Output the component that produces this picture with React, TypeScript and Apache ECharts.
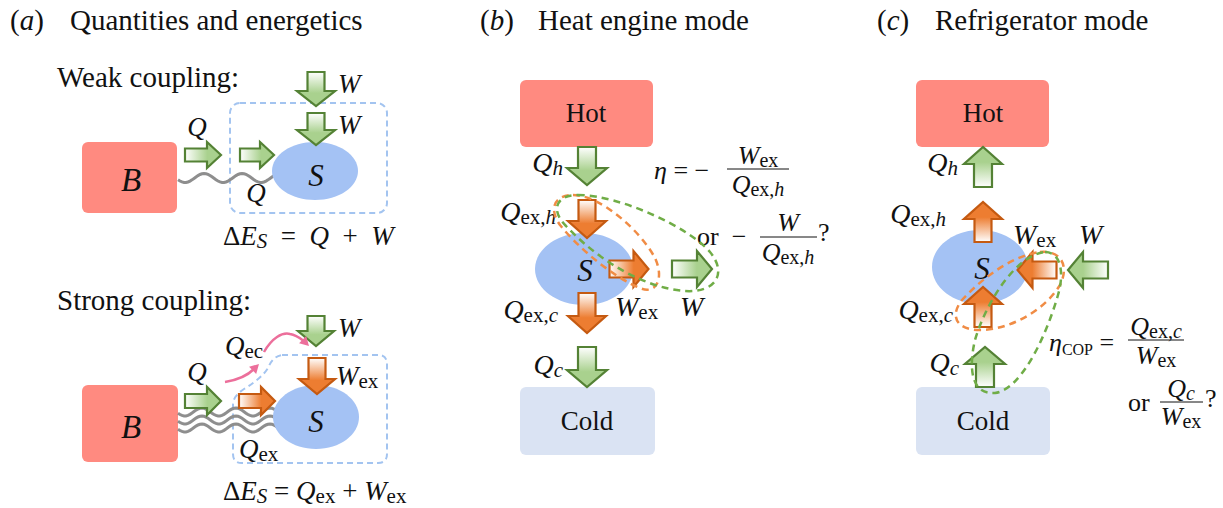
import React, { useEffect, useRef } from "react";
import * as echarts from "echarts";

const WIDTH = 1223;
const HEIGHT = 508;
const SERIF = "Liberation Serif";
const INK = "#111111";

const PANEL_TAGS = ["a", "b", "c"];
const PANEL_TITLES = ["Quantities and energetics", "Heat engine mode", "Refrigerator mode"];
const PANEL_TAG_X = [10, 480, 877];
const PANEL_TITLE_X = [70, 538, 935];
const SUBTITLES = ["Weak coupling:", "Strong coupling:"];
const RESERVOIRS = ["Hot", "Cold"];

const COL = {
  hot: "#ff8a80",
  cold: "#dae3f3",
  sys: "#a4c2f4",
  dashBlue: "#a3c4f0",
  wave: "#8e8e8e",
  gStroke: "#548235",
  gFill: "#a9d18e",
  oStroke: "#c55a11",
  oFill: "#ed7d31",
  gDash: "#70ad47",
  oDash: "#f08c45",
  pink: "#ec6f9b",
};

const PATHS: Record<string, string> = {
  strongRegion:
    "M 282 355 L 378 355 Q 387 355 387 364 L 387 454 Q 387 463 378 463 L 242 463 Q 233 463 233 454 L 233 405 Q 233 396 244 389 Q 262 378 268 368 Q 273 356 282 355 Z",
  loopBo:
    "M 573 195 C 600 195 640 230 655 258 C 665 280 655 295 640 288 C 615 278 580 250 560 225 C 548 208 555 195 573 195 Z",
  loopBg:
    "M 578 195 C 620 195 690 228 710 252 C 728 274 715 293 685 291 C 645 288 600 262 566 226 C 550 210 556 195 578 195 Z",
  loopCo:
    "M 1040 252 C 1060 250 1070 265 1060 285 C 1045 310 1010 330 980 330 C 955 330 950 315 962 300 C 985 275 1015 255 1040 252 Z",
  loopCg:
    "M 1045 252 C 1062 252 1064 275 1058 295 C 1045 340 1020 390 995 393 C 972 395 968 370 975 340 C 985 305 1015 255 1045 252 Z",
  pinkA: "M 225 382 Q 244 379 254 369",
  pinkB: "M 264 352 C 272 338 282 332 290 334 C 297 335 301 339 305 342",
};
Object.keys(PATHS).forEach((k) => {
  echarts.graphic.registerShape(k, echarts.graphic.extendPath(PATHS[k], {}));
});

function rich(sz: number) {
  const sub = Math.round(sz * 0.76);
  return {
    i: { fontFamily: SERIF, fontStyle: "italic", fontSize: sz, lineHeight: sz + 4, fill: INK },
    n: { fontFamily: SERIF, fontStyle: "normal", fontSize: sz, lineHeight: sz + 4, fill: INK },
    s: { fontFamily: SERIF, fontStyle: "normal", fontSize: sub, lineHeight: Math.round(sub * 0.7), verticalAlign: "bottom", fill: INK },
    si: { fontFamily: SERIF, fontStyle: "italic", fontSize: sub, lineHeight: Math.round(sub * 0.7), verticalAlign: "bottom", fill: INK },
    c: { fontFamily: SERIF, fontStyle: "normal", fontSize: Math.round(sz * 0.62), lineHeight: Math.round(sz * 0.5), verticalAlign: "bottom", fill: INK },
  };
}

function label(x: number, y: number, text: string, size = 29, align = "left") {
  return {
    type: "text",
    x,
    y,
    z: 6,
    silent: true,
    style: { text, fontFamily: SERIF, fontSize: size, fill: INK, align, verticalAlign: "middle" },
  };
}

function txt(x: number, y: number, text: string, size = 26, align = "left") {
  return {
    type: "text",
    x,
    y,
    z: 6,
    silent: true,
    style: { text, align, verticalAlign: "middle", rich: rich(size) },
  };
}

function hline(x1: number, x2: number, y: number) {
  return { type: "line", z: 6, silent: true, shape: { x1, y1: y, x2, y2: y }, style: { stroke: INK, lineWidth: 1 } };
}

function box(x: number, y: number, w: number, h: number, fill: string) {
  return { type: "rect", z: 1, silent: true, shape: { x, y, width: w, height: h, r: 6 }, style: { fill } };
}

function ell(cx: number, cy: number, rx: number, ry: number) {
  return { type: "ellipse", z: 4, silent: true, shape: { cx, cy, rx, ry }, style: { fill: COL.sys } };
}

function arrow(cx: number, cy: number, dir: string, kind: string, L = 38, Wd = 38, bw = 18, hl = 16) {
  const pts = [
    [-L / 2, -bw / 2],
    [L / 2 - hl, -bw / 2],
    [L / 2 - hl, -Wd / 2],
    [L / 2, 0],
    [L / 2 - hl, Wd / 2],
    [L / 2 - hl, bw / 2],
    [-L / 2, bw / 2],
  ];
  const rot: Record<string, number[]> = { r: [1, 0], d: [0, 1], l: [-1, 0], u: [0, -1] };
  const [c, s] = rot[dir];
  const points = pts.map(([x, y]) => [cx + x * c - y * s, cy + x * s + y * c]);
  const g: Record<string, number[]> = { r: [0, 0, 1, 0], l: [1, 0, 0, 0], d: [0, 0, 0, 1], u: [0, 1, 0, 0] };
  const head = kind === "g" ? COL.gFill : COL.oFill;
  const gg = g[dir];
  return {
    type: "polygon",
    z: 5,
    silent: true,
    shape: { points },
    style: {
      fill: {
        type: "linear",
        x: gg[0],
        y: gg[1],
        x2: gg[2],
        y2: gg[3],
        colorStops: [
          { offset: 0, color: "#ffffff" },
          { offset: 0.62, color: head },
          { offset: 1, color: head },
        ],
      },
      stroke: kind === "g" ? COL.gStroke : COL.oStroke,
      lineWidth: 2.2,
      lineJoin: "miter",
    },
  };
}

function wave(x0: number, x1: number, yc: number, amp: number, period: number, phase: number) {
  const pts: number[][] = [];
  for (let x = x0; x <= x1; x += 2) {
    pts.push([x, yc + amp * Math.sin(((x - x0) / period) * 2 * Math.PI + phase)]);
  }
  return { type: "polyline", z: 3, silent: true, shape: { points: pts }, style: { stroke: COL.wave, lineWidth: 3, fill: "none" } };
}

function pathEl(name: string, stroke: string, dash: number[] | null, lw = 2.5, z = 7) {
  return {
    type: name,
    z,
    silent: true,
    style: { fill: "none", stroke, lineWidth: lw, lineDash: dash || undefined },
  };
}

function head(tx: number, ty: number, ux: number, uy: number) {
  const n = Math.hypot(ux, uy);
  const dx = ux / n, dy = uy / n;
  const L = 9, Hw = 5;
  return {
    type: "polygon",
    z: 7,
    silent: true,
    shape: {
      points: [
        [tx, ty],
        [tx - L * dx + Hw * -dy, ty - L * dy + Hw * dx],
        [tx - L * dx - Hw * -dy, ty - L * dy - Hw * dx],
      ],
    },
    style: { fill: COL.pink },
  };
}

function buildElements() {
  const els: any[] = [];
  PANEL_TAGS.forEach((t, i) => {
    els.push(txt(PANEL_TAG_X[i], 20, `{n|(}{i|${t}}{n|)}`, 29));
    els.push(label(PANEL_TITLE_X[i], 20, PANEL_TITLES[i], 29));
  });

  // ---------- Panel (a) weak ----------
  els.push(label(57, 77, SUBTITLES[0], 29));
  els.push(box(82, 142, 95, 71, COL.hot));
  els.push({ type: "rect", z: 2, silent: true, shape: { x: 230, y: 103, width: 157, height: 110, r: 10 }, style: { fill: "none", stroke: COL.dashBlue, lineWidth: 2, lineDash: [6, 4] } });
  els.push(wave(178, 276, 178, 4.5, 38, 0.4));
  els.push(ell(315, 171, 43, 29));
  els.push(arrow(203, 155, "r", "g", 36, 26, 13, 14));
  els.push(arrow(257, 155, "r", "g", 34, 26, 13, 14));
  els.push(arrow(316, 89, "d", "g", 34, 38, 17, 15));
  els.push(arrow(316, 129, "d", "g", 32, 38, 17, 15));
  els.push(txt(131, 180, "{i|B}", 33, "center"));
  els.push(txt(316, 175, "{i|S}", 31, "center"));
  els.push(txt(197, 127, "{i|Q}", 27, "center"));
  els.push(txt(256, 193, "{i|Q}", 27, "center"));
  els.push(txt(338, 84, "{i|W}", 27));
  els.push(txt(338, 125, "{i|W}", 27));
  els.push(txt(223, 236, "{n|Δ}{i|E}{si|S}{n|\u2002=\u2002}{i|Q}{n|\u2002+\u2002}{i|W}", 27));

  // ---------- Panel (a) strong ----------
  els.push(label(57, 300, SUBTITLES[1], 29));
  els.push(box(82, 385, 96, 77, COL.hot));
  els.push({ type: "strongRegion", z: 2, silent: true, style: { fill: "none", stroke: COL.dashBlue, lineWidth: 2, lineDash: [6, 4] } });
  els.push(wave(178, 280, 412, 4, 34, 0.3));
  els.push(wave(178, 280, 420, 4, 34, 0.3));
  els.push(wave(178, 280, 428, 4, 34, 0.3));
  els.push(ell(316, 417, 43, 32));
  els.push(arrow(203, 401, "r", "g", 36, 28, 14, 14));
  els.push(arrow(257, 401, "r", "o", 36, 28, 14, 14));
  els.push(arrow(316, 331, "d", "g", 30, 36, 17, 15));
  els.push(arrow(317, 376, "d", "o", 36, 36, 17, 15));
  els.push(pathEl("pinkA", COL.pink, null, 2.5));
  els.push(head(259, 364, 11, -11));
  els.push(pathEl("pinkB", COL.pink, null, 2.5));
  els.push(head(309, 346, 1, 1));
  els.push(txt(131, 427, "{i|B}", 33, "center"));
  els.push(txt(316, 421, "{i|S}", 31, "center"));
  els.push(txt(197, 372, "{i|Q}", 27, "center"));
  els.push(txt(225, 346, "{i|Q}{s|ec}", 27));
  els.push(txt(338, 328, "{i|W}", 27));
  els.push(txt(336, 376, "{i|W}{s|ex}", 27));
  els.push(txt(239, 449, "{i|Q}{s|ex}", 27));
  els.push(txt(223, 491, "{n|Δ}{i|E}{si|S}{n| = }{i|Q}{s|ex}{n| + }{i|W}{s|ex}", 27));

  // ---------- Panel (b) ----------
  els.push(box(520, 80, 133, 67, COL.hot));
  els.push(box(520, 387, 135, 68, COL.cold));
  els.push(label(586, 113, RESERVOIRS[0], 27, "center"));
  els.push(label(587, 421, RESERVOIRS[1], 27, "center"));
  els.push(ell(584, 269, 49, 36));
  els.push(arrow(587, 166, "d", "g", 38, 40, 18, 17));
  els.push(arrow(587, 219, "d", "o", 38, 38, 17, 17));
  els.push(arrow(629, 269, "r", "o", 39, 36, 17, 15));
  els.push(arrow(692, 269, "r", "g", 40, 36, 17, 15));
  els.push(arrow(587, 313, "d", "o", 40, 38, 17, 17));
  els.push(arrow(587, 367, "d", "g", 40, 40, 18, 17));
  els.push(txt(585, 270, "{i|S}", 31, "center"));
  els.push(txt(563, 162, "{i|Q}{si|h}", 28, "right"));
  els.push(txt(556, 211, "{i|Q}{s|ex,}{si|h}", 28, "right"));
  els.push(txt(558, 309, "{i|Q}{s|ex,}{si|c}", 28, "right"));
  els.push(txt(563, 364, "{i|Q}{si|c}", 28, "right"));
  els.push(txt(615, 306, "{i|W}{s|ex}", 28));
  els.push(txt(680, 306, "{i|W}", 28));
  els.push(txt(654, 170, "{i|η}{n| = −}", 26));
  els.push(hline(727, 789, 169));
  els.push(txt(758, 155, "{i|W}{s|ex}", 26, "center"));
  els.push(txt(758, 184, "{i|Q}{s|ex,}{si|h}", 26, "center"));
  els.push(txt(697, 236, "{n|or\u2002−}", 26));
  els.push(hline(760, 817, 237));
  els.push(txt(788, 222, "{i|W}", 26, "center"));
  els.push(txt(788, 252, "{i|Q}{s|ex,}{si|h}", 26, "center"));
  els.push(txt(818, 232, "{n|?}", 26));
  els.push(pathEl("loopBo", COL.oDash, [7, 5]));
  els.push(pathEl("loopBg", COL.gDash, [7, 5]));

  // ---------- Panel (c) ----------
  els.push(box(916, 80, 133, 67, COL.hot));
  els.push(box(916, 387, 134, 68, COL.cold));
  els.push(label(983, 113, RESERVOIRS[0], 27, "center"));
  els.push(label(983, 421, RESERVOIRS[1], 27, "center"));
  els.push(ell(980, 267, 48, 37));
  els.push(arrow(983, 167, "u", "g", 40, 38, 18, 17));
  els.push(arrow(983, 222, "u", "o", 40, 38, 17, 17));
  els.push(arrow(1037, 270, "l", "o", 39, 36, 17, 15));
  els.push(arrow(1088, 270, "l", "g", 40, 36, 17, 15));
  els.push(arrow(983, 307, "u", "o", 40, 38, 17, 17));
  els.push(arrow(985, 367, "u", "g", 40, 40, 18, 17));
  els.push(txt(982, 268, "{i|S}", 31, "center"));
  els.push(txt(958, 162, "{i|Q}{si|h}", 28, "right"));
  els.push(txt(946, 213, "{i|Q}{s|ex,}{si|h}", 28, "right"));
  els.push(txt(953, 309, "{i|Q}{s|ex,}{si|c}", 28, "right"));
  els.push(txt(959, 362, "{i|Q}{si|c}", 28, "right"));
  els.push(txt(1013, 234, "{i|W}{s|ex}", 28));
  els.push(txt(1079, 234, "{i|W}", 28));
  els.push(txt(1049, 342, "{i|η}{c|COP}{n| =}", 26));
  els.push(hline(1128, 1184, 340));
  els.push(txt(1156, 326, "{i|Q}{s|ex,}{si|c}", 26, "center"));
  els.push(txt(1156, 355, "{i|W}{s|ex}", 26, "center"));
  els.push(txt(1128, 402, "{n|or}", 26));
  els.push(hline(1160, 1203, 402));
  els.push(txt(1181, 388, "{i|Q}{si|c}", 26, "center"));
  els.push(txt(1181, 416, "{i|W}{s|ex}", 26, "center"));
  els.push(txt(1205, 398, "{n|?}", 26));
  els.push(pathEl("loopCo", COL.oDash, [7, 5]));
  els.push(pathEl("loopCg", COL.gDash, [7, 5]));

  return els;
}

export default function App() {
  const ref = useRef<HTMLDivElement>(null);
  useEffect(() => {
    if (!ref.current) return;
    const chart = echarts.init(ref.current, undefined, { renderer: "svg" });
    chart.setOption({
      animation: false,
      backgroundColor: "#ffffff",
      graphic: { elements: buildElements() },
    });
    return () => chart.dispose();
  }, []);
  return (
    <div
      ref={ref}
      style={{ position: "fixed", left: 0, top: 0, width: WIDTH, height: HEIGHT, background: "#fff" }}
    />
  );
}
